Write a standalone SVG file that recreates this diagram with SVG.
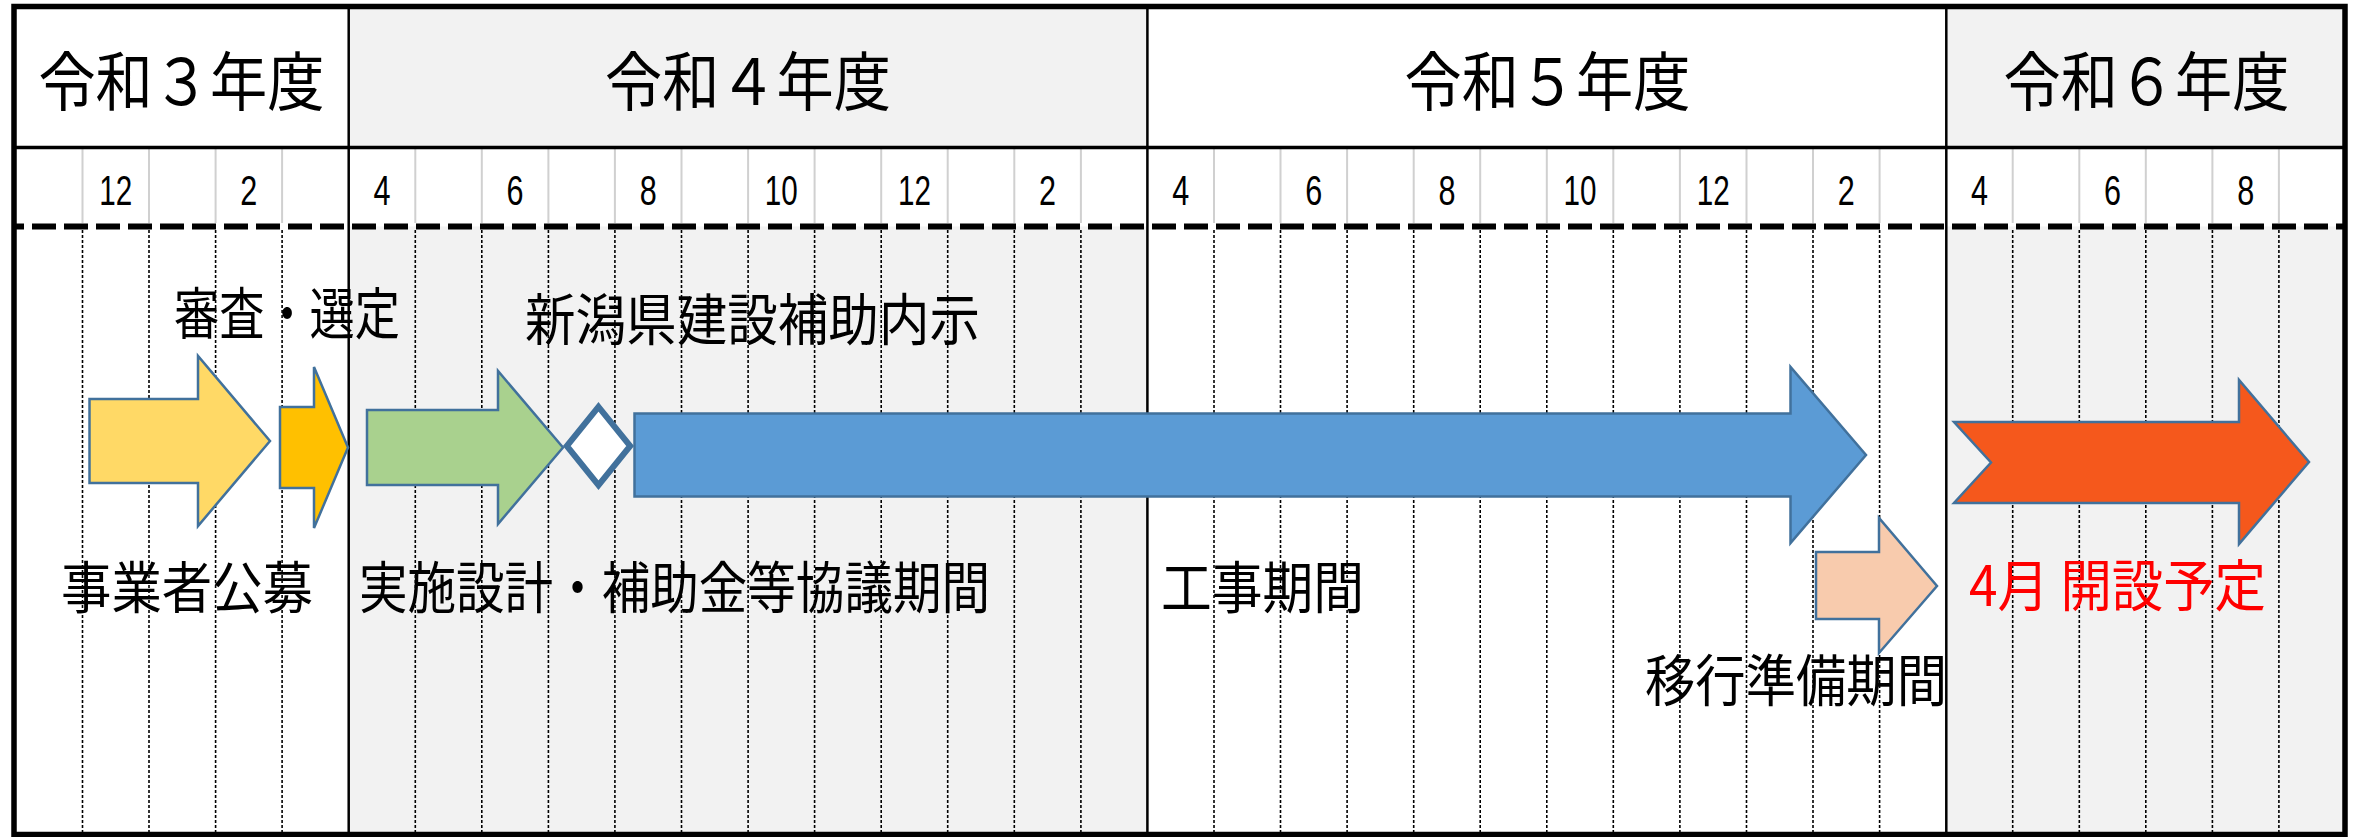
<svg xmlns="http://www.w3.org/2000/svg" width="2359" height="837" viewBox="0 0 2359 837">
<style>
.jp{font-family:"Noto Sans CJK JP","Noto Sans CJK SC",sans-serif;fill:#000}
.yr{font-size:64px;text-anchor:middle}
.lb{font-size:56px}
.mo{font-family:"Liberation Sans",Arial,sans-serif;font-size:43px;text-anchor:middle;fill:#000}
.arrow{stroke:#41719C;stroke-width:2.5;stroke-linejoin:miter}
</style>
<rect x="0" y="0" width="2359" height="837" fill="#ffffff"/>
<g id="background">
<rect x="348.7" y="6" width="798.7" height="141.5" fill="#F2F2F2"/>
<rect x="348.7" y="226.5" width="798.7" height="608.5" fill="#F2F2F2"/>
<rect x="1946.1" y="6" width="399.4" height="141.5" fill="#F2F2F2"/>
<rect x="1946.1" y="226.5" width="399.4" height="608.5" fill="#F2F2F2"/>
</g>
<g id="grid">
<path fill="none" stroke="#D0D0D0" stroke-width="2" d="M82.5,149V223M149,149V223M215.6,149V223M282.1,149V223M415.3,149V223M481.8,149V223M548.4,149V223M614.9,149V223M681.5,149V223M748.1,149V223M814.6,149V223M881.2,149V223M947.7,149V223M1014.3,149V223M1080.9,149V223M1214,149V223M1280.5,149V223M1347.1,149V223M1413.7,149V223M1480.2,149V223M1546.8,149V223M1613.3,149V223M1679.9,149V223M1746.5,149V223M1813,149V223M1879.6,149V223M2012.7,149V223M2079.3,149V223M2145.8,149V223M2212.4,149V223M2278.9,149V223"/>
<path fill="none" stroke="#000" stroke-width="1.6" stroke-dasharray="3 2" d="M82.5,230V833M149,230V833M215.6,230V833M282.1,230V833M415.3,230V833M481.8,230V833M548.4,230V833M614.9,230V833M681.5,230V833M748.1,230V833M814.6,230V833M881.2,230V833M947.7,230V833M1014.3,230V833M1080.9,230V833M1214,230V833M1280.5,230V833M1347.1,230V833M1413.7,230V833M1480.2,230V833M1546.8,230V833M1613.3,230V833M1679.9,230V833M1746.5,230V833M1813,230V833M1879.6,230V833M2012.7,230V833M2079.3,230V833M2145.8,230V833M2212.4,230V833M2278.9,230V833"/>
<line x1="16" y1="226.5" x2="2343" y2="226.5" stroke="#000" stroke-width="6" stroke-dasharray="24 8" stroke-dashoffset="16"/>
<line x1="14" y1="147.5" x2="2345" y2="147.5" stroke="#000" stroke-width="3.5"/>
<path fill="none" stroke="#000" stroke-width="2.5" d="M348.7,6V835M1147.4,6V835M1946.3,6V835"/>
<rect x="14" y="6.5" width="2331" height="828" fill="none" stroke="#000" stroke-width="5.5"/>
</g>
<g id="year-headers" class="jp">
<text class="jp yr" x="181.4" y="105.3" textLength="286" lengthAdjust="spacingAndGlyphs">令和３年度</text>
<text class="jp yr" x="748" y="105.3" textLength="286" lengthAdjust="spacingAndGlyphs">令和４年度</text>
<text class="jp yr" x="1547.5" y="105.3" textLength="286" lengthAdjust="spacingAndGlyphs">令和５年度</text>
<text class="jp yr" x="2146.5" y="105.3" textLength="286" lengthAdjust="spacingAndGlyphs">令和６年度</text>
</g>
<g id="month-labels">
<text class="mo" x="115.7" y="205" textLength="33" lengthAdjust="spacingAndGlyphs">12</text>
<text class="mo" x="248.7" y="205" textLength="17" lengthAdjust="spacingAndGlyphs">2</text>
<text class="mo" x="382" y="205" textLength="17" lengthAdjust="spacingAndGlyphs">4</text>
<text class="mo" x="515.1" y="205" textLength="17" lengthAdjust="spacingAndGlyphs">6</text>
<text class="mo" x="648.2" y="205" textLength="17" lengthAdjust="spacingAndGlyphs">8</text>
<text class="mo" x="781.3" y="205" textLength="33" lengthAdjust="spacingAndGlyphs">10</text>
<text class="mo" x="914.5" y="205" textLength="33" lengthAdjust="spacingAndGlyphs">12</text>
<text class="mo" x="1047.6" y="205" textLength="17" lengthAdjust="spacingAndGlyphs">2</text>
<text class="mo" x="1180.7" y="205" textLength="17" lengthAdjust="spacingAndGlyphs">4</text>
<text class="mo" x="1313.8" y="205" textLength="17" lengthAdjust="spacingAndGlyphs">6</text>
<text class="mo" x="1446.9" y="205" textLength="17" lengthAdjust="spacingAndGlyphs">8</text>
<text class="mo" x="1580.1" y="205" textLength="33" lengthAdjust="spacingAndGlyphs">10</text>
<text class="mo" x="1713.2" y="205" textLength="33" lengthAdjust="spacingAndGlyphs">12</text>
<text class="mo" x="1846.3" y="205" textLength="17" lengthAdjust="spacingAndGlyphs">2</text>
<text class="mo" x="1979.4" y="205" textLength="17" lengthAdjust="spacingAndGlyphs">4</text>
<text class="mo" x="2112.5" y="205" textLength="17" lengthAdjust="spacingAndGlyphs">6</text>
<text class="mo" x="2245.7" y="205" textLength="17" lengthAdjust="spacingAndGlyphs">8</text>
</g>
<g id="recruitment">
<path class="arrow" fill="#FFD966" d="M89.5,399H198V356L270,441L198,526V483H89.5Z"/>
<text class="jp lb" x="61" y="608" textLength="252" lengthAdjust="spacingAndGlyphs">事業者公募</text>
</g>
<g id="selection">
<path class="arrow" fill="#FFC000" d="M280,407H314V367L348,447.5L314,528V488H280Z"/>
<text class="jp lb" x="174" y="333.5" textLength="226" lengthAdjust="spacingAndGlyphs">審査・選定</text>
</g>
<g id="design">
<path class="arrow" fill="#A9D18E" d="M367,410H498V371L563,447.5L498,524V485H367Z"/>
<text class="jp lb" x="359" y="608" textLength="631" lengthAdjust="spacingAndGlyphs">実施設計・補助金等協議期間</text>
</g>
<g id="subsidy-notice">
<path fill="#FFFFFF" stroke="#41719C" stroke-width="6" d="M598.5,406.8L630.2,446L598.5,485.2L566.8,446Z"/>
<text class="jp lb" x="525" y="340" textLength="455" lengthAdjust="spacingAndGlyphs">新潟県建設補助内示</text>
</g>
<g id="construction">
<path class="arrow" fill="#5B9BD5" stroke-width="3" d="M634.5,413.5H1790.5V367L1866,455L1790.5,543V496.5H634.5Z"/>
<text class="jp lb" x="1161" y="608" textLength="203" lengthAdjust="spacingAndGlyphs">工事期間</text>
</g>
<g id="transition">
<path class="arrow" fill="#F8CBAD" d="M1816,552H1879V518L1937,586L1879,653V619H1816Z"/>
<text class="jp lb" x="1645" y="701" textLength="302" lengthAdjust="spacingAndGlyphs">移行準備期間</text>
</g>
<g id="opening">
<path class="arrow" fill="#F5581C" d="M1954,422H2239V380L2309,462L2239,544V503H1954L1991,462.5Z"/>
<text class="jp lb" x="1969" y="606" textLength="297" lengthAdjust="spacingAndGlyphs" style="fill:#FF0000">4月 開設予定</text>
</g>
<g id="connectors"/>
</svg>
